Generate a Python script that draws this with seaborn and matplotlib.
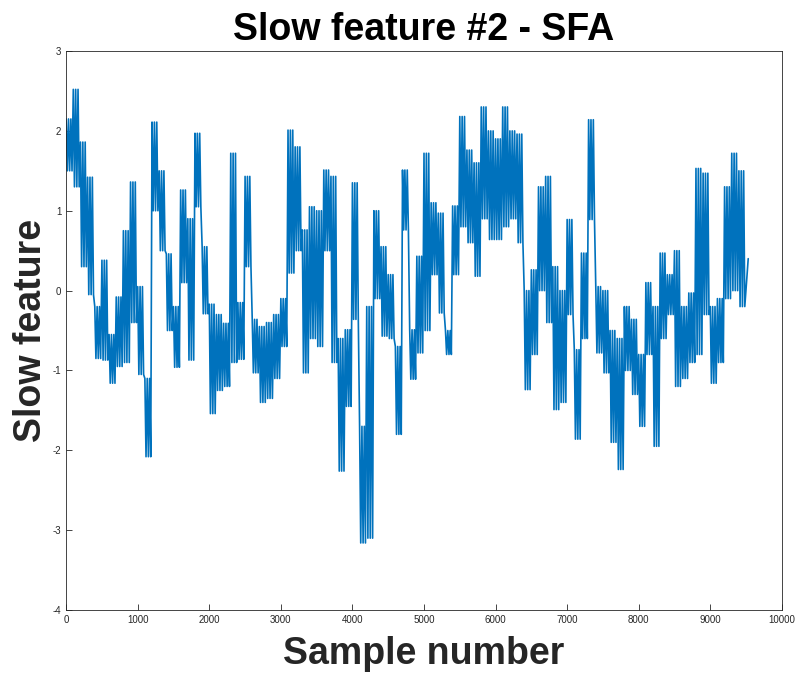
import matplotlib
matplotlib.use("Agg")
import matplotlib.pyplot as plt
import numpy as np
import pandas as pd
import seaborn as sns

# envelope of the slow feature per 100-sample bin
bin_start = list(range(0, 9500, 100))
upper = [2.15, 2.52, 1.86, 1.42, -0.20, 0.38, -0.55, -0.08, 0.75, 1.36,
         0.05, -1.10, 2.11, 1.50, 0.46, -0.20, 1.26, 0.90, 1.97, 0.55,
         -0.17, -0.30, -0.41, 1.72, -0.15, 1.43, -0.36, -0.45, -0.40, -0.30,
         -0.10, 2.01, 1.80, 0.76, 1.05, 1.00, 1.51, 1.43, -0.60, -0.49,
         1.35, -1.70, -0.20, 1.00, 0.55, 0.20, -0.70, 1.51, -0.49, 0.43,
         1.72, 1.10, 0.97, -0.50, 1.06, 2.18, 1.76, 1.60, 2.30, 2.00,
         1.90, 2.30, 2.00, 1.96, 0.00, 0.26, 1.30, 1.43, 0.30, 0.00,
         0.89, -0.74, 0.47, 2.14, 0.05, 0.00, -0.50, -0.60, -0.20, -0.36,
         -0.80, 0.10, -0.20, 0.47, 0.20, 0.50, -0.20, -0.03, 1.53, 1.47,
         -0.20, -0.10, 1.30, 1.72, 1.50]
lower = [1.50, 1.30, 0.30, -0.05, -0.85, -0.87, -1.16, -0.95, -0.90, -0.40,
         -1.05, -2.08, 1.00, 0.50, -0.50, -0.96, 0.10, -0.87, 1.05, -0.29,
         -1.54, -1.25, -1.20, -0.90, -0.86, 0.30, -1.03, -1.40, -1.35, -1.10,
         -0.70, 0.22, 0.50, -1.03, -0.60, -0.70, 0.50, -0.90, -2.26, -1.45,
         -0.36, -3.16, -3.10, -0.10, -0.57, -0.60, -1.80, 0.76, -1.11, -0.78,
         -0.50, 0.20, -0.28, -0.80, 0.20, 0.80, 0.60, 0.18, 0.90, 0.64,
         0.64, 0.80, 0.90, 0.60, -1.24, -0.80, 0.00, -0.40, -1.49, -1.40,
         -0.30, -1.86, -0.60, 0.89, -0.78, -1.03, -1.90, -2.24, -1.00, -1.30,
         -1.70, -0.80, -1.95, -0.60, -0.30, -1.20, -1.10, -0.90, -0.80, -0.30,
         -1.16, -0.90, -0.10, 0.00, -0.20]
last_sample = 9530
last_value = 0.40

# the trace swings between the two envelope levels inside every bin
samples, values = [], []
for x0, hi, lo in zip(bin_start, upper, lower):
    for j in range(3):
        samples += [x0 + 33 * j, x0 + 33 * j + 16]
        values += [hi, lo]
samples.append(last_sample)
values.append(last_value)
df = pd.DataFrame({"sample": samples, "feature": values})

sns.set_style("white")
plt.rcParams["font.family"] = ["Liberation Sans", "DejaVu Sans"]
plt.rcParams["axes.unicode_minus"] = False

fig = plt.figure(figsize=(7.97, 6.79), dpi=100)
ax = fig.add_axes([0.083, 0.1016, 0.898, 0.8232])

sns.lineplot(data=df, x="sample", y="feature", ax=ax, color="#0072BD",
             linewidth=1.2, estimator=None, sort=False)

ax.set_xlim(0, 10000)
ax.set_ylim(-4, 3)
ax.set_xticks(range(0, 10001, 1000))
ax.set_yticks(range(-4, 4))
ax.tick_params(direction="in", length=4, width=0.6, labelsize=7,
               colors="#262626", labelcolor="#262626", bottom=True, left=True)
for s in ax.spines.values():
    s.set_color("#262626")
    s.set_linewidth(0.6)

ax.set_title("Slow feature #2 - SFA", fontsize=27, fontweight="bold", pad=8,
             color="black")
ax.set_xlabel("Sample number", fontsize=27, fontweight="bold", labelpad=8,
              color="#262626")
ax.set_ylabel("Slow feature", fontsize=27, fontweight="bold", labelpad=2.5,
              color="#262626")

fig.savefig("out.png", dpi=100)
